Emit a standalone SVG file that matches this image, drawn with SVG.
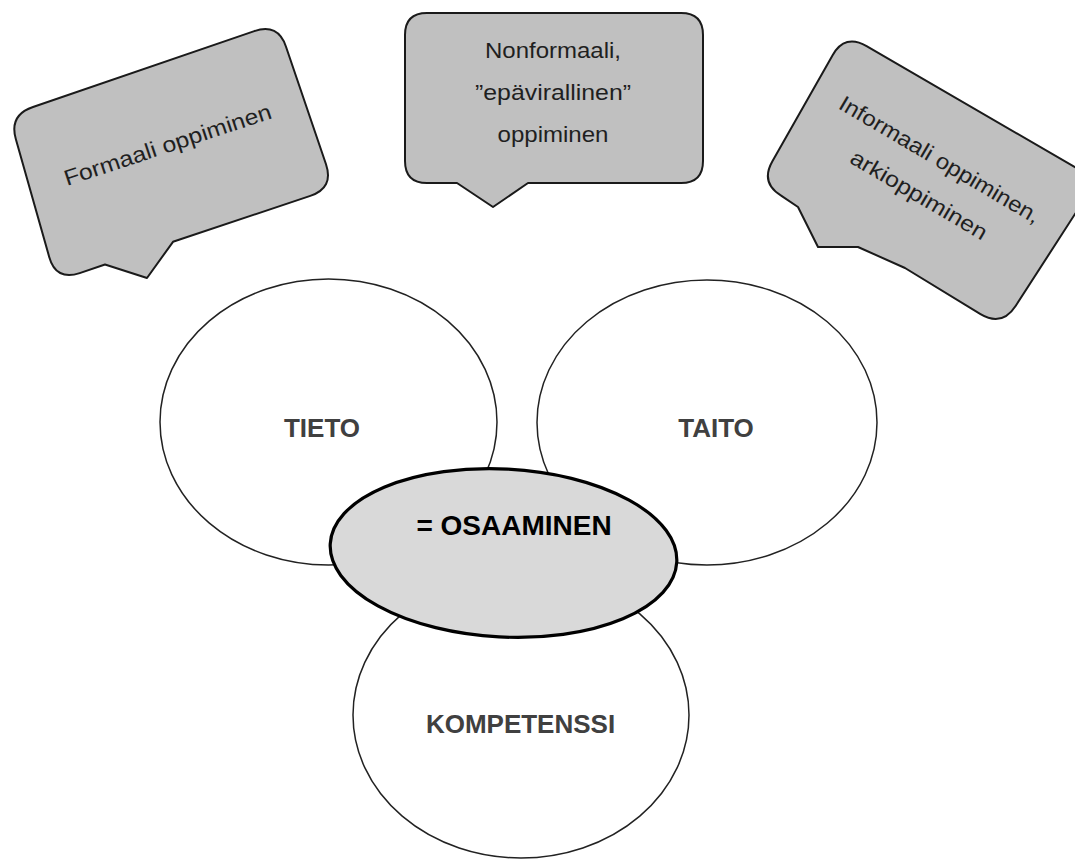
<svg xmlns="http://www.w3.org/2000/svg" width="1075" height="859" viewBox="0 0 1075 859">
<style>
.bubble{fill:#c0c0c0;stroke:#1a1a1a;stroke-width:2;stroke-linejoin:round}
.btxt{font-family:"Liberation Sans",Arial,sans-serif;font-size:22px;fill:#1f1f1f;text-anchor:middle}
.circ{fill:#ffffff;stroke:#222222;stroke-width:1.5}
.ctxt{font-family:"Liberation Sans",Arial,sans-serif;font-size:26px;font-weight:bold;fill:#404040;text-anchor:middle}
.core{fill:#d9d9d9;stroke:#000000;stroke-width:3.2}
.coretxt{font-family:"Liberation Sans",Arial,sans-serif;font-size:28px;font-weight:bold;fill:#000000;text-anchor:middle}
</style>
<rect width="1075" height="859" fill="#ffffff"/>
<g id="connectors"></g>
<g id="formaali">
<path class="bubble" d="M 33 107 L 254.3 31.1 Q 278 23 286 46.7 L 326 164.3 Q 334 188 310.3 195.9 L 173 241.8 L 147 278 L 105 264.5 L 79.7 273.1 Q 56 281 49.2 256.9 L 15.8 139 Q 9 115 33 107 Z"/>
<text class="btxt" x="170" y="152" textLength="217" lengthAdjust="spacingAndGlyphs" transform="rotate(-18.3 170 152)">Formaali oppiminen</text>
</g>
<g id="nonformaali">
<path class="bubble" d="M 427 13 L 681 13 Q 703 13 703 35 L 703 161 Q 703 183 681 183 L 528 183 L 493 207 L 457 183 L 427 183 Q 405 183 405 161 L 405 35 Q 405 13 427 13 Z"/>
<text class="btxt"><tspan x="553" y="58" textLength="136" lengthAdjust="spacingAndGlyphs">Nonformaali,</tspan><tspan x="553" y="100" textLength="156" lengthAdjust="spacingAndGlyphs">”epävirallinen”</tspan><tspan x="553" y="142" textLength="111" lengthAdjust="spacingAndGlyphs">oppiminen</tspan></text>
</g>
<g id="informaali">
<path class="bubble" d="M 866.6 46.1 L 1075.4 167.4 Q 1097 180 1083.4 201 L 1015.6 306 Q 1002 327 980.5 314.2 L 905 268 L 858 247 L 818 247 L 798 207 L 781.5 195.8 Q 760 183 772.4 161.3 L 832.6 55.2 Q 845 33.5 866.6 46.1 Z"/>
<text class="btxt" transform="rotate(30.5 936 166)"><tspan x="936" y="166" textLength="229" lengthAdjust="spacingAndGlyphs">Informaali oppiminen,</tspan><tspan x="936" y="207" textLength="155" lengthAdjust="spacingAndGlyphs">arkioppiminen</tspan></text>
</g>
<g id="tieto">
<ellipse class="circ" cx="328.5" cy="422" rx="168.5" ry="143"/>
<text class="ctxt" x="322" y="437">TIETO</text>
</g>
<g id="taito">
<ellipse class="circ" cx="707" cy="422.5" rx="170" ry="142.5"/>
<text class="ctxt" x="716" y="437">TAITO</text>
</g>
<g id="kompetenssi">
<ellipse class="circ" cx="521" cy="715" rx="168" ry="143"/>
<text class="ctxt" x="520.5" y="733">KOMPETENSSI</text>
</g>
<g id="osaaminen">
<ellipse class="core" cx="503.5" cy="553" rx="173.5" ry="84" transform="rotate(3 503.5 553)"/>
<text class="coretxt" x="514" y="535">= OSAAMINEN</text>
</g>
</svg>
